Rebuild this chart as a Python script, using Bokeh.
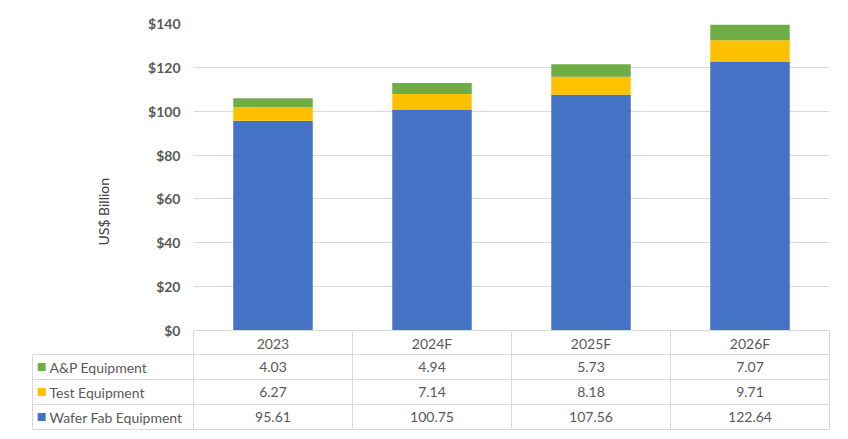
from bokeh.plotting import figure
from bokeh.models import Range1d, FixedTicker, NumeralTickFormatter, Title, ColumnDataSource
from bokeh.embed import file_html
from bokeh.resources import INLINE
from bokeh.core.properties import value

# ---- data ----
years = ["2023", "2024F", "2025F", "2026F"]
wafer_fab = [95.61, 100.75, 107.56, 122.64]
test_eq = [6.27, 7.14, 8.18, 9.71]
ap_eq = [4.03, 4.94, 5.73, 7.07]
series_names = ["Wafer Fab Equipment", "Test Equipment", "A&P Equipment"]
series_colors = ["#4472C4", "#FFC000", "#70AD47"]
y_ticks = [0, 20, 40, 60, 80, 100, 120, 140]

# ---- style ----
FONT = "Lato"
GREY = "#595959"
LINE = "#D9D9D9"
PX = 1 / 159.0          # one pixel in table x units
LBL_W = 161 * PX        # width of the row-label column

n = len(years)
x_pos = [i + 0.5 for i in range(n)]
bounds = list(range(n + 1))

src = ColumnDataSource(dict(x=x_pos, wafer=wafer_fab, test=test_eq, ap=ap_eq))

# ---- chart ----
p1 = figure(width=848, height=354, x_range=Range1d(0, n), y_range=Range1d(0, y_ticks[-1]),
            output_backend="svg", toolbar_location=None,
            min_border_left=193, min_border_right=19, min_border_top=23, min_border_bottom=24)
p1.outline_line_color = None
p1.background_fill_color = "white"
p1.border_fill_color = "white"

p1.vbar_stack(["wafer", "test", "ap"], x="x", width=0.5, fill_color=series_colors,
              line_color=None, source=src)

ya = p1.yaxis[0]
ya.ticker = FixedTicker(ticks=y_ticks)
ya.formatter = NumeralTickFormatter(format="$0")
ya.axis_line_color = None
ya.major_tick_line_color = None
ya.minor_tick_line_color = None
ya.major_tick_out = 0
ya.major_tick_in = 0
ya.major_label_standoff = 13
ya.major_label_text_font = FONT
ya.major_label_text_font_size = "14px"
ya.major_label_text_font_style = "bold"
ya.major_label_text_color = GREY

p1.ygrid.grid_line_color = LINE
p1.xgrid.visible = False

xa = p1.xaxis[0]
xa.ticker = FixedTicker(ticks=x_pos, minor_ticks=bounds)
xa.major_label_overrides = {x: y for x, y in zip(x_pos, years)}
xa.major_tick_out = 0
xa.major_tick_in = 0
xa.minor_tick_out = 24
xa.minor_tick_in = 0
xa.minor_tick_line_color = LINE
xa.axis_line_color = LINE
xa.major_label_standoff = -20
xa.major_label_text_font = FONT
xa.major_label_text_font_size = "14px"
xa.major_label_text_color = GREY

ylab = Title(text="US$ Billion", align="left", offset=85, standoff=68,
             text_font=FONT, text_font_size="14px", text_font_style="normal",
             text_color="#404040")
p1.add_layout(ylab, "left")

# ---- data table ----
p2 = figure(width=848, height=76, x_range=Range1d(-LBL_W, n), y_range=Range1d(0, 3),
            output_backend="svg", toolbar_location=None,
            min_border_left=32, min_border_right=19, min_border_top=0, min_border_bottom=1)
p2.xaxis.visible = False
p2.yaxis.visible = False
p2.outline_line_color = LINE
p2.xgrid.ticker = FixedTicker(ticks=bounds[:-1])
p2.ygrid.ticker = FixedTicker(ticks=[1, 2])
p2.xgrid.grid_line_color = LINE
p2.ygrid.grid_line_color = LINE

row_y = [i + 0.5 for i in range(len(series_names))]
series_vals = [wafer_fab, test_eq, ap_eq]

lbl_src = ColumnDataSource(dict(x=[-LBL_W] * len(series_names), sx=[-LBL_W + 9.2 * PX] * len(series_names),
                                y=row_y, name=series_names, color=series_colors))
p2.rect(x="sx", y="y", width=8, height=8, width_units="screen", height_units="screen",
        fill_color="color", line_color=None, source=lbl_src)
p2.text(x="x", y="y", text="name", x_offset=17, text_align="left", text_baseline="middle",
        text_font=value(FONT), text_font_size="14px", text_color=GREY, source=lbl_src)

cx, cy, ct = [], [], []
for yi, vals in zip(row_y, series_vals):
    for xi, v in zip(x_pos, vals):
        cx.append(xi)
        cy.append(yi)
        ct.append(f"{v:.2f}")
p2.text(x=cx, y=cy, text=ct, text_align="center", text_baseline="middle",
        text_font=value(FONT), text_font_size="14px", text_color=GREY)

open("out.html", "w").write(file_html([p1, p2], INLINE))
